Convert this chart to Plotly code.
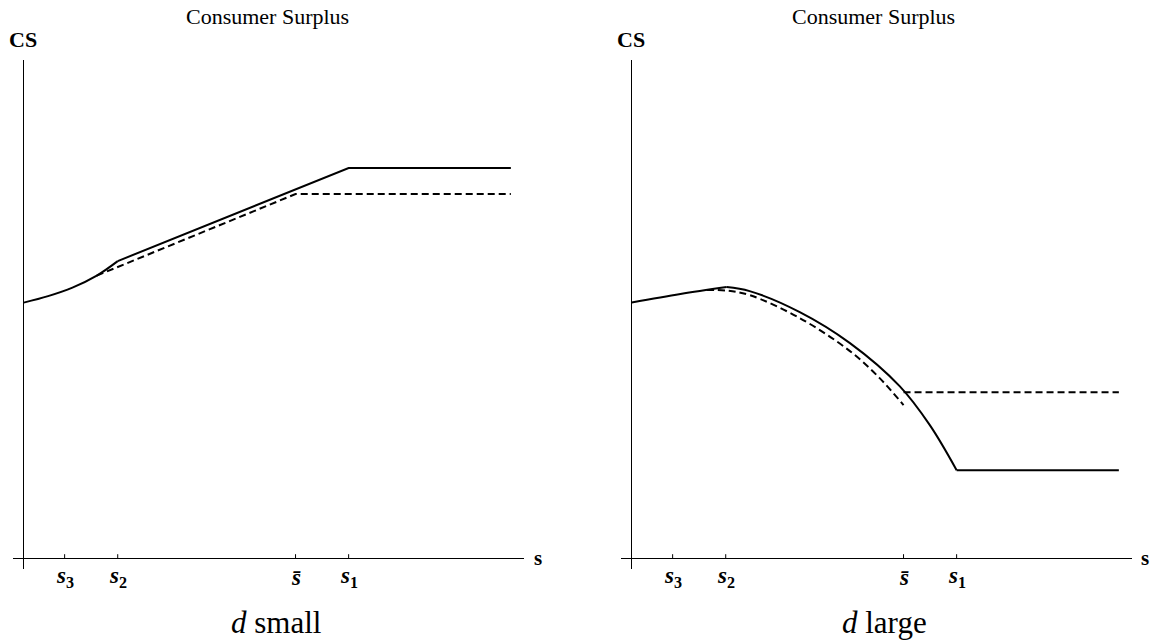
import plotly.graph_objects as go

# ---- data (s in arbitrary units, CS in arbitrary units) ----
tick_vals = [0.84, 1.93, 5.58, 6.67]
tick_text = ["<b><i>s</i><sub>3</sub></b>", "<b><i>s</i><sub>2</sub></b>",
             "<b><i>s̄</i></b>", "<b><i>s</i><sub>1</sub></b>"]

# d small
small_curve_s = [0.0, 0.5, 1.0, 1.5, 1.93]
small_curve_cs = [5.12, 5.25, 5.42, 5.66, 5.95]
small_solid_s = [1.93, 6.67, 10.0]
small_solid_cs = [5.95, 7.81, 7.81]
small_dash_s = [1.5, 5.58, 10.0]
small_dash_cs = [5.66, 7.29, 7.29]

# d large
large_rise_s = [0.0, 1.0, 1.95]
large_rise_cs = [5.12, 5.29, 5.43]
large_curve_s = [1.95, 2.42, 3.45, 4.48, 5.50, 6.12, 6.67]
large_curve_cs = [5.43, 5.35, 4.93, 4.31, 3.45, 2.67, 1.77]
large_flat_s = [6.67, 10.0]
large_flat_cs = [1.77, 1.77]
large_dcurve_s = [1.54, 1.95, 2.42, 3.45, 4.48, 5.09, 5.58]
large_dcurve_cs = [5.37, 5.36, 5.27, 4.81, 4.15, 3.61, 3.07]
large_dflat_s = [5.58, 10.0]
large_dflat_cs = [3.33, 3.33]

W, H = 1151, 641
SERIF = "Liberation Serif"


def px_x(p):
    return p / W


def px_y(p):
    return 1 - p / H


fig = go.Figure()


def add_line(xs, ys, xa, ya, dash=None, spline=False):
    fig.add_trace(go.Scatter(
        x=xs, y=ys, mode="lines", xaxis=xa, yaxis=ya,
        line=dict(color="black", width=2, dash=dash or "solid",
                  shape="spline" if spline else "linear", smoothing=1.0),
        showlegend=False, hoverinfo="skip"))


# left panel
add_line(small_dash_s, small_dash_cs, "x", "y", dash="7px,4px")
add_line(small_curve_s, small_curve_cs, "x", "y", spline=True)
add_line(small_solid_s, small_solid_cs, "x", "y")
# right panel
add_line(large_dcurve_s, large_dcurve_cs, "x2", "y2", dash="7px,4px", spline=True)
add_line(large_dflat_s, large_dflat_cs, "x2", "y2", dash="7px,4px")
add_line(large_rise_s, large_rise_cs, "x2", "y2", spline=True)
add_line(large_curve_s, large_curve_cs, "x2", "y2", spline=True)
add_line(large_flat_s, large_flat_cs, "x2", "y2")

panels = [
    dict(xa="x", ya="y", cap="<i>d</i> small", title_x=267, cap_x=276, slabel_x=538, cs_x=23),
    dict(xa="x2", ya="y2", cap="<i>d</i> large", title_x=873, cap_x=884, slabel_x=1145, cs_x=631),
]

annotations = []
shapes = []


def ann(text, x, y, size, xref="paper"):
    annotations.append(dict(text=text, x=x, y=y, xref=xref, yref="paper", showarrow=False,
                            xanchor="center", yanchor="middle",
                            font=dict(family=SERIF, size=size, color="black")))


for p in panels:
    for tv, tt in zip(tick_vals, tick_text):
        shapes.append(dict(type="line", xref=p["xa"], yref=p["ya"], x0=tv, x1=tv, y0=0, y1=0.09,
                           line=dict(color="black", width=1)))
        ann(tt, tv, px_y(577), 23, xref=p["xa"])
    ann("Consumer Surplus", px_x(p["title_x"]), px_y(17), 22)
    ann("<b>CS</b>", px_x(p["cs_x"]), px_y(40), 22)
    ann("<b>s</b>", px_x(p["slabel_x"]), px_y(558), 21)
    ann(p["cap"], px_x(p["cap_x"]), px_y(622), 31)

ax_common = dict(range=[-0.22, 10.27], showgrid=False, zeroline=True, zerolinecolor="black",
                 zerolinewidth=1, showline=False, showticklabels=False, ticks="")
ay_common = dict(range=[-0.206, 9.97], showgrid=False, zeroline=True, zerolinecolor="black",
                 zerolinewidth=1, showline=False, showticklabels=False, ticks="")

fig.update_layout(
    width=W, height=H, margin=dict(l=0, r=0, t=0, b=0),
    paper_bgcolor="white", plot_bgcolor="white",
    xaxis=dict(domain=[px_x(13), px_x(524)], anchor="y", **ax_common),
    xaxis2=dict(domain=[px_x(621), px_x(1132)], anchor="y2", **ax_common),
    yaxis=dict(domain=[px_y(569), px_y(60)], anchor="x", **ay_common),
    yaxis2=dict(domain=[px_y(569), px_y(60)], anchor="x2", **ay_common),
    annotations=annotations, shapes=shapes,
)

fig.write_html("out.html", config={"displayModeBar": False},
               post_script="document.body.style.margin='0';document.body.style.overflow='hidden';")
